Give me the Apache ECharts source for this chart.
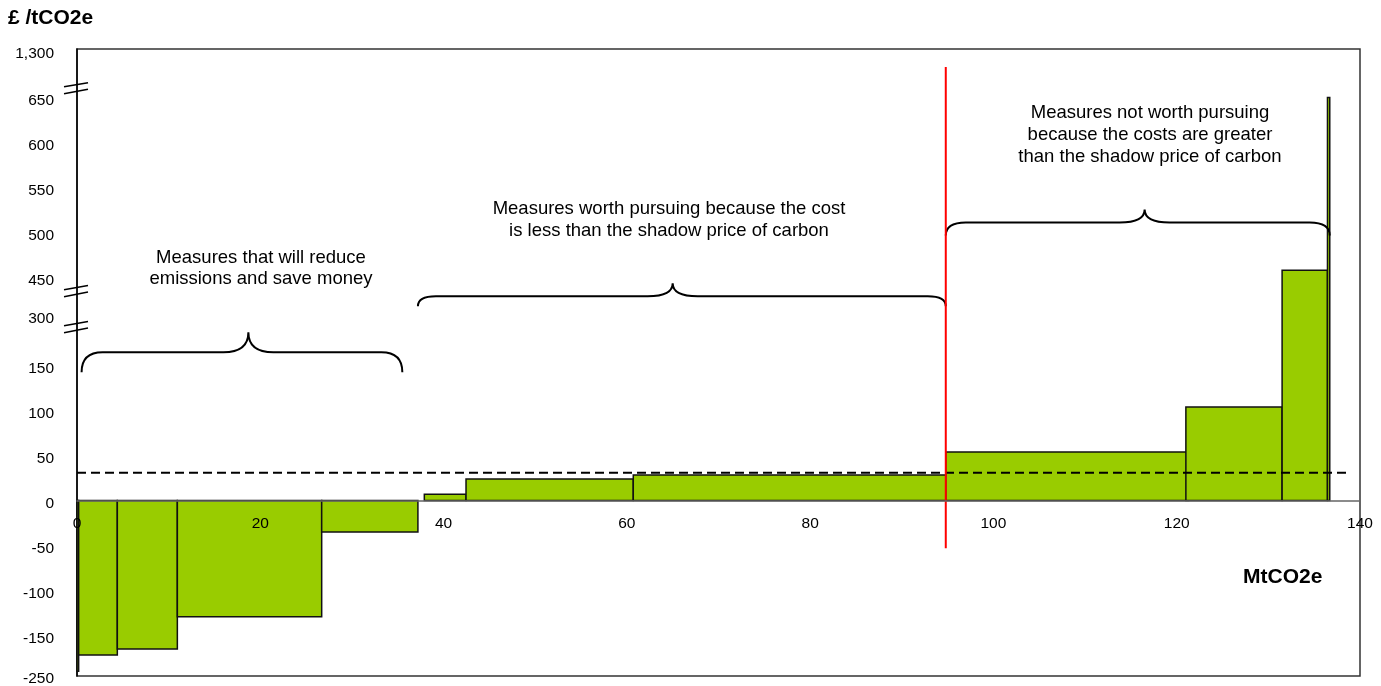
<!DOCTYPE html>
<html><head><meta charset="utf-8">
<script src="https://cdn.jsdelivr.net/npm/echarts@6/dist/echarts.min.js"></script>
<style>html,body{margin:0;padding:0;background:#fff}#c{width:1381px;height:686px}</style>
</head><body><div id="c"></div>
<script>
// ---- Data ----
// Abatement measures: start / end of cumulative abatement (MtCO2e) and cost (£/tCO2e)
const barStart = [0, 0.18, 4.4, 10.95, 26.7, 37.9, 42.45, 60.7, 94.8, 121.0, 131.5, 136.45];
const barEnd   = [0.18, 4.4, 10.95, 26.7, 37.2, 42.45, 60.7, 94.8, 121.3, 131.5, 136.45, 136.7];
const barCost  = [-238, -198, -183, -129, -35, 7, 24, 28.5, 54, 104, 458, 650];

// Shadow price of carbon (dashed line) and its extent in MtCO2e
const shadowPrice = 31;
const shadowPriceX = [0, 138.8];
// Red dividing line: position (MtCO2e) and vertical extent (£/tCO2e)
const dividerX = 94.8;
const dividerY = [-53, 1075];

// Broken y axis: tick labels and their real values
const yTickLabels = ['-250', '-150', '-100', '-50', '0', '50', '100', '150', '300', '450', '500', '550', '600', '650', '1,300'];
const yTickValues = [-250, -150, -100, -50, 0, 50, 100, 150, 300, 450, 500, 550, 600, 650, 1300];
// Axis break scale: real value -> plotted position
const breakReal = [-250, -150, 150, 300, 450, 650, 1300];
const breakDisp = [-195, -150, 150, 206, 248, 448, 500];
// Positions of the break marks on the y axis (real values)
const axisBreaks = [781, 396, 265];

// X axis
const xTicks = [0, 20, 40, 60, 80, 100, 120, 140];

// Braces: start, end, tip (MtCO2e) and level (£/tCO2e)
const braceStart = [0.5, 37.2, 94.8];
const braceEnd   = [35.5, 94.8, 136.7];
const braceTip   = [18.7, 65.0, 116.5];
const braceLevel = [190, 376, 511];

const annotations = [
  'Measures that will reduce\nemissions and save money',
  'Measures worth pursuing because the cost\nis less than the shadow price of carbon',
  'Measures not worth pursuing\nbecause the costs are greater\nthan the shadow price of carbon'
];

// ---- helpers ----
function toDisp(v) {
  for (let i = 0; i < breakReal.length - 1; i++) {
    const a = breakReal[i], b = breakReal[i + 1];
    if (v <= b || i === breakReal.length - 2) {
      return breakDisp[i] + (v - a) / (b - a) * (breakDisp[i + 1] - breakDisp[i]);
    }
  }
}
const yTickDisp = yTickValues.map(toDisp);

// styles (pixels)
const braceDrop = [20, 10, 13];
const braceRise = [20, 13, 13];
const braceCurlW = [21, 18, 20];
const braceTipW = [25, 25, 25];

const FONT = '"Liberation Sans", Arial, Helvetica, sans-serif';

const chart = echarts.init(document.getElementById('c'), null, {renderer: 'canvas'});

const barData = barStart.map((s, i) => [s, barEnd[i], toDisp(barCost[i])]);
const braceData = braceStart.map((s, i) => [s, braceEnd[i], braceTip[i], toDisp(braceLevel[i]), i]);
const breakData = axisBreaks.map(v => [0, toDisp(v)]);
const xLabelData = xTicks.map(x => [x, 0]);

const option = {
  animation: false,
  backgroundColor: '#fff',
  grid: {left: 77, right: 21, top: 49, bottom: 10, show: true, borderColor: '#333', borderWidth: 1.5,
         backgroundColor: '#fff', containLabel: false, outerBoundsMode: 'none'},
  xAxis: {
    type: 'value', min: 0, max: 140, interval: 20, z: 10,
    axisLine: {onZero: true, lineStyle: {color: '#666', width: 1.5}},
    axisTick: {show: false},
    splitLine: {show: false},
    axisLabel: {show: false}
  },
  yAxis: {
    type: 'value', min: -195, max: 502,
    axisLine: {show: true, onZero: false, lineStyle: {color: '#000', width: 1.5}},
    axisTick: {show: false},
    splitLine: {show: false},
    axisLabel: {
      color: '#000', fontSize: 15.5, fontFamily: FONT, margin: 23,
      verticalAlign: 'top', lineHeight: 6,
      customValues: yTickDisp,
      formatter: function (val) {
        for (let i = 0; i < yTickDisp.length; i++) {
          if (Math.abs(yTickDisp[i] - val) < 0.01) return yTickLabels[i];
        }
        return '';
      }
    }
  },
  series: [
    {
      type: 'custom', name: 'measures', z: 2,
      encode: {x: [0, 1], y: 2},
      data: barData,
      renderItem: function (params, api) {
        const p0 = api.coord([api.value(0), 0]);
        const p1 = api.coord([api.value(1), api.value(2)]);
        return {
          type: 'rect',
          shape: {x: p0[0], y: Math.min(p0[1], p1[1]), width: p1[0] - p0[0], height: Math.abs(p1[1] - p0[1])},
          style: {fill: '#99CC00', stroke: '#111', lineWidth: 1.5}
        };
      }
    },
    {
      type: 'line', name: 'shadow price', z: 5, symbol: 'none',
      data: shadowPriceX.map(x => [x, toDisp(shadowPrice)]),
      lineStyle: {color: '#000', width: 2, type: [9, 5]}
    },
    {
      type: 'line', name: 'divider', z: 6, symbol: 'none',
      data: dividerY.map(y => [dividerX, toDisp(y)]),
      lineStyle: {color: '#ff0000', width: 2}
    },
    {
      type: 'custom', name: 'braces', z: 4, clip: false,
      encode: {x: [0, 1, 2], y: 3},
      data: braceData,
      renderItem: function (params, api) {
        const i = api.value(4);
        const L = api.coord([api.value(0), api.value(3)]);
        const R = api.coord([api.value(1), api.value(3)]);
        const T = api.coord([api.value(2), api.value(3)]);
        const yf = L[1], d = braceDrop[i], r = braceRise[i], cw = braceCurlW[i], tw = braceTipW[i];
        const xl = L[0], xr = R[0], xt = T[0];
        const path = 'M' + xl + ',' + (yf + d) +
          ' Q' + xl + ',' + yf + ' ' + (xl + cw) + ',' + yf +
          ' L' + (xt - tw) + ',' + yf +
          ' Q' + xt + ',' + yf + ' ' + xt + ',' + (yf - r) +
          ' Q' + xt + ',' + yf + ' ' + (xt + tw) + ',' + yf +
          ' L' + (xr - cw) + ',' + yf +
          ' Q' + xr + ',' + yf + ' ' + xr + ',' + (yf + d);
        return {type: 'path', shape: {pathData: path}, style: {fill: null, stroke: '#000', lineWidth: 2}};
      }
    },
    {
      type: 'custom', name: 'axis breaks', z: 10, clip: false,
      encode: {x: 0, y: 1},
      data: breakData,
      renderItem: function (params, api) {
        const p = api.coord([api.value(0), api.value(1)]);
        const x = p[0], y = p[1];
        return {
          type: 'group',
          children: [
            {type: 'line', shape: {x1: x - 13, y1: y - 1.3, x2: x + 11, y2: y - 5.5}, style: {stroke: '#000', lineWidth: 1.5}},
            {type: 'line', shape: {x1: x - 13, y1: y + 5.7, x2: x + 11, y2: y + 1.0}, style: {stroke: '#000', lineWidth: 1.5}}
          ]
        };
      }
    },
    {
      // x-axis tick labels, placed along the zero line
      type: 'custom', name: 'x labels', z: 12, clip: false,
      encode: {x: 0, y: 1},
      data: xLabelData,
      renderItem: function (params, api) {
        const p = api.coord([api.value(0), api.value(1)]);
        return {
          type: 'text', x: p[0], y: p[1] + 23,
          style: {text: String(api.value(0)), font: '15.5px ' + FONT, fill: '#000', align: 'center', verticalAlign: 'middle'}
        };
      }
    }
  ],
  graphic: [
    {type: 'text', left: 8, top: 8, z: 20, style: {text: '£ /tCO2e', font: 'bold 21px ' + FONT, fill: '#000'}},
    {type: 'text', left: 1243, top: 567, z: 20, style: {text: 'MtCO2e', font: 'bold 21px ' + FONT, fill: '#000'}},
    {type: 'text', x: 261, y: 268.5, z: 20, style: {text: annotations[0], font: '18.5px ' + FONT, fill: '#000', align: 'center', verticalAlign: 'middle', lineHeight: 21}},
    {type: 'text', x: 669, y: 220, z: 20, style: {text: annotations[1], font: '18.5px ' + FONT, fill: '#000', align: 'center', verticalAlign: 'middle', lineHeight: 22}},
    {type: 'text', x: 1150, y: 135, z: 20, style: {text: annotations[2], font: '18.5px ' + FONT, fill: '#000', align: 'center', verticalAlign: 'middle', lineHeight: 22}}
  ]
};
chart.setOption(option);
</script>
</body></html>
